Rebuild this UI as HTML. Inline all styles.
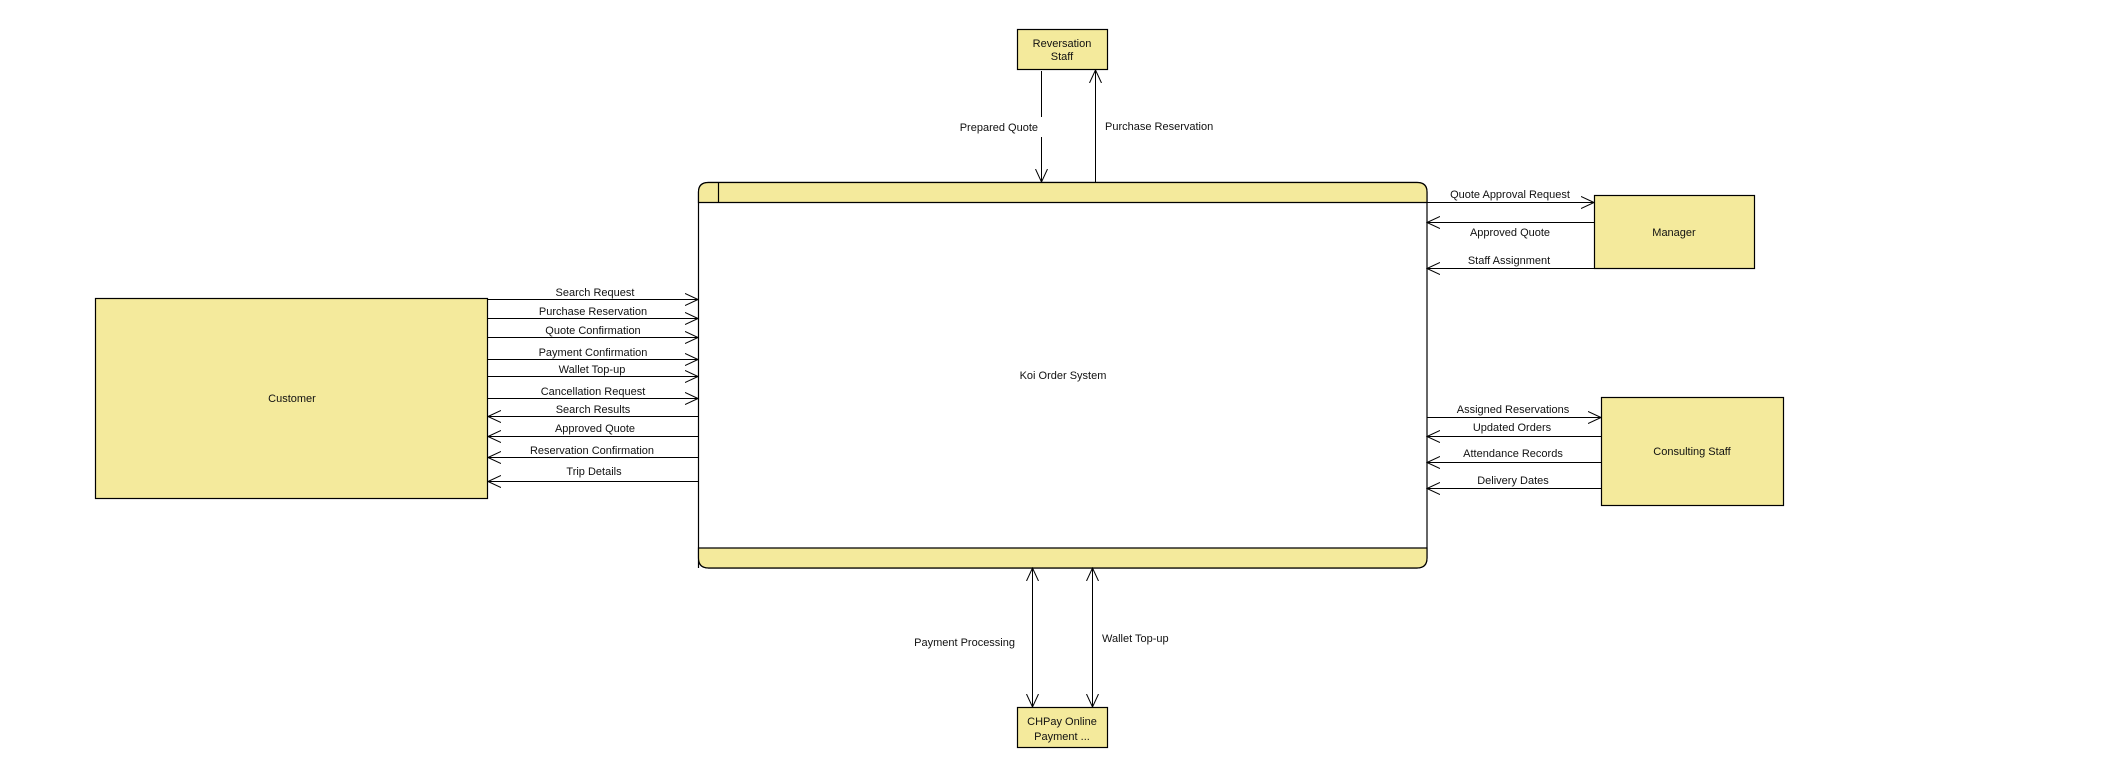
<!DOCTYPE html>
<html><head><meta charset="utf-8"><style>
html,body{margin:0;padding:0;background:#fff;}
svg{display:block;}
text{font-family:"Liberation Sans",Arial,sans-serif;font-size:11px;fill:#111;}
</style></head><body>
<svg width="2128" height="764" viewBox="0 0 2128 764" xmlns="http://www.w3.org/2000/svg">
<defs>
<marker id="a" markerWidth="14" markerHeight="14" refX="13" refY="7" orient="auto" markerUnits="userSpaceOnUse">
<path d="M0,1 L13,7 L0,13" fill="none" stroke="#000" stroke-width="1"/>
</marker>
<marker id="s" markerWidth="14" markerHeight="14" refX="1" refY="7" orient="auto" markerUnits="userSpaceOnUse">
<path d="M14,1 L1,7 L14,13" fill="none" stroke="#000" stroke-width="1"/>
</marker>
</defs>
<g stroke="#000" stroke-width="1.2">
<!-- system -->
<path d="M698.5,568 L698.5,192 Q698.5,182.5 708.5,182.5 L1417,182.5 Q1427,182.5 1427,192 L1427,558 Q1427,568 1417,568 L708.5,568 Q698.5,568 698.5,558 Z" fill="#fff"/>
<path d="M698.5,202.5 L698.5,192 Q698.5,182.5 708.5,182.5 L1417,182.5 Q1427,182.5 1427,192 L1427,202.5 Z" fill="#f4ea9c"/>
<path d="M698.5,548 L1427,548 L1427,558 Q1427,568 1417,568 L708.5,568 Q698.5,568 698.5,558 Z" fill="#f4ea9c"/>
<line x1="718.5" y1="182.5" x2="718.5" y2="202.5"/>
<!-- boxes -->
<rect x="95.5" y="298.5" width="392" height="200" fill="#f4ea9c"/>
<rect x="1017.5" y="29.5" width="90" height="40" fill="#f4ea9c"/>
<rect x="1017.5" y="707.5" width="90" height="40" fill="#f4ea9c"/>
<rect x="1594.5" y="195.5" width="160" height="73" fill="#f4ea9c"/>
<rect x="1601.5" y="397.5" width="182" height="108" fill="#f4ea9c"/>
</g>
<g stroke="#000" stroke-width="1" fill="none">
<!-- customer outgoing -->
<line x1="488" y1="299.5" x2="698" y2="299.5" marker-end="url(#a)"/>
<line x1="488" y1="318.5" x2="698" y2="318.5" marker-end="url(#a)"/>
<line x1="488" y1="337.5" x2="698" y2="337.5" marker-end="url(#a)"/>
<line x1="488" y1="359.5" x2="698" y2="359.5" marker-end="url(#a)"/>
<line x1="488" y1="376.5" x2="698" y2="376.5" marker-end="url(#a)"/>
<line x1="488" y1="398.5" x2="698" y2="398.5" marker-end="url(#a)"/>
<!-- incoming -->
<line x1="698" y1="416.5" x2="488" y2="416.5" marker-end="url(#a)"/>
<line x1="698" y1="436.5" x2="488" y2="436.5" marker-end="url(#a)"/>
<line x1="698" y1="457.5" x2="488" y2="457.5" marker-end="url(#a)"/>
<line x1="698" y1="481.5" x2="488" y2="481.5" marker-end="url(#a)"/>
<!-- top -->
<line x1="1041.5" y1="71" x2="1041.5" y2="117"/>
<line x1="1041.5" y1="137" x2="1041.5" y2="182" marker-end="url(#a)"/>
<line x1="1095.5" y1="182" x2="1095.5" y2="70" marker-end="url(#a)"/>
<!-- manager -->
<line x1="1427" y1="202.5" x2="1594" y2="202.5" marker-end="url(#a)"/>
<line x1="1594" y1="222.5" x2="1427" y2="222.5" marker-end="url(#a)"/>
<line x1="1594" y1="268.5" x2="1427" y2="268.5" marker-end="url(#a)"/>
<!-- consulting -->
<line x1="1427" y1="417.5" x2="1601" y2="417.5" marker-end="url(#a)"/>
<line x1="1601" y1="436.5" x2="1427" y2="436.5" marker-end="url(#a)"/>
<line x1="1601" y1="462.5" x2="1427" y2="462.5" marker-end="url(#a)"/>
<line x1="1601" y1="488.5" x2="1427" y2="488.5" marker-end="url(#a)"/>
<!-- bottom -->
<line x1="1032.5" y1="568" x2="1032.5" y2="707" marker-start="url(#s)" marker-end="url(#a)"/>
<line x1="1092.5" y1="568" x2="1092.5" y2="707" marker-start="url(#s)" marker-end="url(#a)"/>
</g>
<g text-anchor="middle">
<text x="595" y="296">Search Request</text>
<text x="593" y="315">Purchase Reservation</text>
<text x="593" y="334">Quote Confirmation</text>
<text x="593" y="356">Payment Confirmation</text>
<text x="592" y="373">Wallet Top-up</text>
<text x="593" y="395">Cancellation Request</text>
<text x="593" y="413">Search Results</text>
<text x="595" y="432">Approved Quote</text>
<text x="592" y="454">Reservation Confirmation</text>
<text x="594" y="475">Trip Details</text>
<text x="292" y="402">Customer</text>
<text x="1063" y="379">Koi Order System</text>
<text x="1062" y="47">Reversation</text>
<text x="1062" y="60">Staff</text>
<text x="1062" y="725">CHPay Online</text>
<text x="1062" y="740">Payment ...</text>
<text x="1674" y="236">Manager</text>
<text x="1692" y="455">Consulting Staff</text>
<text x="1510" y="198">Quote Approval Request</text>
<text x="1510" y="236">Approved Quote</text>
<text x="1509" y="264">Staff Assignment</text>
<text x="1513" y="413">Assigned Reservations</text>
<text x="1512" y="431">Updated Orders</text>
<text x="1513" y="457">Attendance Records</text>
<text x="1513" y="484">Delivery Dates</text>
</g>
<text x="1038" y="131" text-anchor="end">Prepared Quote</text>
<text x="1105" y="130">Purchase Reservation</text>
<text x="1015" y="646" text-anchor="end">Payment Processing</text>
<text x="1102" y="642">Wallet Top-up</text>
</svg>
</body></html>
